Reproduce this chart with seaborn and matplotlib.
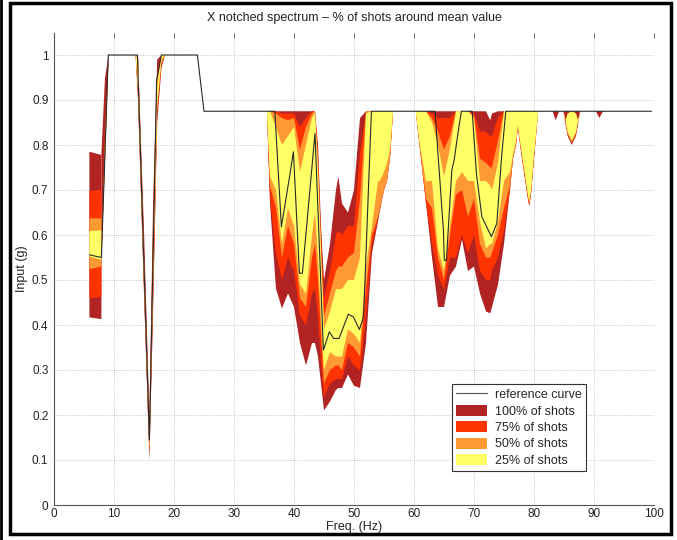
import numpy as np
import matplotlib
matplotlib.use("Agg")
import matplotlib.pyplot as plt
import seaborn as sns
from matplotlib.patches import Patch, Rectangle
from matplotlib.lines import Line2D

N = None  # segment separator

# Frequency grid of the shot-dispersion bands (Hz), segments separated by None
freq = [5.9, 7.9, N,
        7.9, 8.5, 9.1, 13.6, 14.0, 15.0, 15.9, 16.5, 17.2, 17.9, 18.5, N,
        35.5, 36, 37, 38, 39, 40, 41, 42, 43, 43.5, 44, 44.5, 45, 46, 47, 47.4, 48, 49, 50, 51, 52, 53, 54, 54.3, 55, 55.5, 56, 56.5, N,
        60.3, 61, 62, 63, 64, 65, 66, 67, 68, 69, 70, 71, 72, 72.7, 73, 74, 75, 76, 76.5, 77, 77.3, 78, 79, 79.2, 79.5, 80, 80.7, N,
        83.1, 83.6, 84.2, N,
        84.9, 85.2, 85.6, 86.3, 87.0, 87.4, 87.7, N,
        90.3, 90.9, 91.5]

lo100 = [.417, .413, N,
         .545, .76, 1.0, 1.0, .90, .47, .10, .42, .85, .97, 1.0, N,
         .875, .67, .48, .437, .47, .44, .36, .31, .36, .36, .33, .27, .21, .23, .256, .26, .26, .29, .265, .26, .36, .56, .63, .655, .70, .72, .77, .875, N,
         .875, .79, .67, .55, .44, .44, .51, .53, .59, .52, .53, .47, .43, .426, .44, .49, .58, .70, .77, .80, .84, .77, .68, .665, .69, .77, .875, N,
         .875, .855, .875, N,
         .875, .85, .82, .80, .82, .85, .875, N,
         .875, .86, .875]
lo75 = [.459, .463, N,
        .545, .77, 1.0, 1.0, .91, .48, .11, .45, .87, .98, 1.0, N,
        .875, .68, .56, .50, .55, .52, .42, .40, .47, .48, .42, .32, .24, .27, .28, .28, .28, .33, .31, .30, .42, .58, .635, .655, .70, .72, .77, .875, N,
        .875, .79, .67, .58, .51, .48, .55, .55, .60, .56, .60, .52, .50, .50, .52, .55, .61, .70, .77, .80, .84, .77, .68, .665, .69, .77, .875, N,
        .875, .875, .875, N,
        .875, .855, .825, .805, .825, .855, .875, N,
        .875, .875, .875]
lo50 = [.524, .530, N,
        .545, .775, 1.0, 1.0, .92, .49, .12, .47, .88, .98, 1.0, N,
        .875, .71, .66, .55, .62, .58, .46, .44, .55, .58, .50, .38, .27, .30, .31, .31, .30, .36, .35, .33, .48, .60, .64, .66, .70, .72, .77, .875, N,
        .875, .79, .68, .66, .55, .50, .60, .69, .70, .64, .68, .58, .55, .55, .56, .60, .66, .71, .77, .80, .84, .775, .685, .67, .695, .775, .875, N,
        .875, .875, .875, N,
        .875, .855, .825, .805, .825, .855, .875, N,
        .875, .875, .875]
lo25 = [.552, .545, N,
        .545, .78, 1.0, 1.0, .93, .50, .13, .49, .89, .99, 1.0, N,
        .875, .73, .70, .58, .66, .62, .49, .47, .60, .65, .55, .42, .30, .34, .33, .33, .33, .39, .38, .36, .53, .62, .72, .72, .74, .76, .79, .875, N,
        .875, .80, .72, .72, .57, .52, .62, .72, .74, .72, .72, .63, .57, .58, .58, .63, .72, .74, .78, .81, .845, .78, .69, .675, .70, .78, .875, N,
        .875, .875, .875, N,
        .875, .86, .83, .81, .83, .86, .875, N,
        .875, .875, .875]
hi25 = [.609, .610, N,
        .545, .80, 1.0, 1.0, .99, .53, .16, .53, .93, 1.0, 1.0, N,
        .875, .875, .84, .80, .82, .84, .74, .80, .86, .87, .74, .56, .39, .43, .48, .48, .48, .50, .50, .55, .87, .875, .875, .875, .875, .875, .875, .875, N,
        .875, .875, .875, .85, .80, .73, .79, .875, .875, .875, .86, .72, .72, .71, .70, .76, .875, .875, .875, .875, .875, .875, .875, .875, .875, .875, .875, N,
        .875, .875, .875, N,
        .875, .85, .87, .875, .87, .85, .875, N,
        .875, .875, .875]
hi50 = [.637, .637, N,
        .545, .82, 1.0, 1.0, 1.0, .55, .17, .56, .95, 1.0, 1.0, N,
        .875, .875, .87, .86, .855, .86, .79, .84, .87, .875, .76, .58, .42, .47, .52, .53, .53, .55, .56, .68, .875, .875, .875, .875, .875, .875, .875, .875, N,
        .875, .875, .875, .86, .83, .79, .82, .875, .875, .875, .865, .77, .76, .75, .75, .81, .875, .875, .875, .875, .875, .875, .875, .875, .875, .875, .875, N,
        .875, .875, .875, N,
        .875, .85, .87, .875, .87, .85, .875, N,
        .875, .875, .875]
hi75 = [.698, .700, N,
        .55, .85, 1.0, 1.0, 1.0, .57, .18, .60, .96, 1.0, 1.0, N,
        .875, .875, .875, .87, .87, .87, .84, .86, .875, .875, .78, .60, .46, .52, .60, .61, .60, .62, .62, .78, .875, .875, .875, .875, .875, .875, .875, .875, N,
        .875, .875, .875, .87, .86, .86, .86, .875, .875, .875, .87, .83, .83, .82, .82, .86, .875, .875, .875, .875, .875, .875, .875, .875, .875, .875, .875, N,
        .875, .875, .875, N,
        .875, .85, .87, .875, .87, .85, .875, N,
        .875, .875, .875]
hi100 = [.785, .778, N,
         .78, .95, 1.0, 1.0, 1.0, .61, .20, .66, .99, 1.0, 1.0, N,
         .875, .875, .875, .875, .875, .875, .875, .875, .875, .875, .80, .62, .50, .58, .70, .73, .67, .65, .70, .86, .875, .875, .875, .875, .875, .875, .875, .875, N,
         .875, .875, .875, .875, .875, .875, .875, .875, .875, .875, .875, .875, .875, .855, .87, .875, .875, .875, .875, .875, .875, .875, .875, .875, .875, .875, .875, N,
         .875, .875, .875, N,
         .875, .875, .875, .875, .875, .875, .875, N,
         .875, .875, .875]

# Reference curve
ref_freq = [5.9, 7.9, 9.05, 13.9, 15.9, 17.1, 17.9, 23.9, 25.0, 36.8, 37.9, 39.3, 39.9, 40.9, 41.4,
            43.5, 44.9, 45.9, 46.6, 47.5, 49.05, 49.9, 50.9, 51.6, 52.9, 63.5, 64.9, 65.05, 65.4,
            66.3, 66.7, 67.4, 67.9, 69.7, 70.4, 71.3, 72.9, 73.8, 74.6, 75.3, 99.6]
ref_val = [0.556, 0.55, 1.0, 1.0, 0.144, 0.944, 1.0, 1.0, 0.875, 0.875, 0.618, 0.733, 0.785, 0.515, 0.515,
           0.826, 0.344, 0.385, 0.37, 0.37, 0.424, 0.418, 0.39, 0.418, 0.875, 0.875, 0.611, 0.544, 0.543,
           0.744, 0.767, 0.833, 0.875, 0.875, 0.737, 0.641, 0.596, 0.626, 0.774, 0.875, 0.875]

band_labels = ["100% of shots", "75% of shots", "50% of shots", "25% of shots"]
band_colors = ["#B22424", "#FF3300", "#FF9933", "#FFFF66"]
x_ticks = [0, 10, 20, 30, 40, 50, 60, 70, 80, 90, 100]
y_ticks = [0, 0.1, 0.2, 0.3, 0.4, 0.5, 0.6, 0.7, 0.8, 0.9, 1.0]
y_tick_labels = ["0", "0.1", "0.2", "0.3", "0.4", "0.5", "0.6", "0.7", "0.8", "0.9", "1"]

sns.set_theme(style="white")
plt.rcParams['font.family'] = ['Liberation Sans', 'DejaVu Sans']

fig = plt.figure(figsize=(6.77, 5.40), dpi=100)
ax = fig.add_axes([54 / 677, 35 / 540, 600 / 677, 472.5 / 540])

def arr(v):
    return np.ma.masked_invalid(np.array([np.nan if a is None else a for a in v], dtype=float))

f = arr(freq)
bands = [(lo100, hi100), (lo75, hi75), (lo50, hi50), (lo25, hi25)]
for (lo, hi), col in zip(bands, band_colors):
    ax.fill_between(f, arr(lo), arr(hi), color=col, linewidth=0, zorder=2)

sns.lineplot(x=ref_freq, y=ref_val, ax=ax, color="#2a2a2a", linewidth=0.8,
             sort=False, estimator=None, zorder=3)

ax.set_xlim(0, 100)
ax.set_ylim(0, 1.05)
ax.set_xticks(x_ticks)
ax.set_xticklabels([str(t) for t in x_ticks])
ax.set_yticks(y_ticks)
ax.set_yticklabels(y_tick_labels)
ax.grid(True, linestyle=':', color='#b5b5b5', linewidth=0.6)
ax.set_axisbelow(True)
for s in ["top", "right"]:
    ax.spines[s].set_visible(False)
for s in ["left", "bottom"]:
    ax.spines[s].set_color("#555555")
    ax.spines[s].set_linewidth(0.8)
ax.tick_params(axis='both', direction='in', length=3.5, width=0.6, color='#555555',
               labelsize=8.5, labelcolor='#222222', top=True, right=False)
ax.tick_params(axis='x', pad=2.5)
ax.tick_params(axis='y', pad=4)

ax.set_title("X notched spectrum \u2013 % of shots around mean value", fontsize=9, pad=8, color='#222222')
ax.set_xlabel("Freq. (Hz)", fontsize=9, labelpad=0.5, color='#222222')
ax.set_ylabel("Input (g)", fontsize=9, labelpad=3, color='#222222')

handles = [Line2D([], [], color="#555555", linewidth=0.8, label="reference curve")]
handles += [Patch(facecolor=c, edgecolor='none', label=l) for c, l in zip(band_colors, band_labels)]
leg = ax.legend(handles=handles, loc='upper left', bbox_to_anchor=(0.663, 0.256),
                fontsize=9, frameon=True, fancybox=False, framealpha=1,
                edgecolor='#333333', borderpad=0.35, labelspacing=0.28,
                handlelength=2.5, handleheight=1.0, handletextpad=0.6, borderaxespad=0)
leg.get_frame().set_linewidth(0.8)

# figure frame
fig.patches.append(Rectangle((10 / 677, 6 / 540), 661 / 677, 531 / 540, transform=fig.transFigure,
                             fill=False, edgecolor='black', linewidth=2.5))
fig.lines.append(Line2D([1 / 677, 1 / 677], [0, 1], transform=fig.transFigure, color='black', linewidth=2))

fig.savefig("out.png", dpi=100)
